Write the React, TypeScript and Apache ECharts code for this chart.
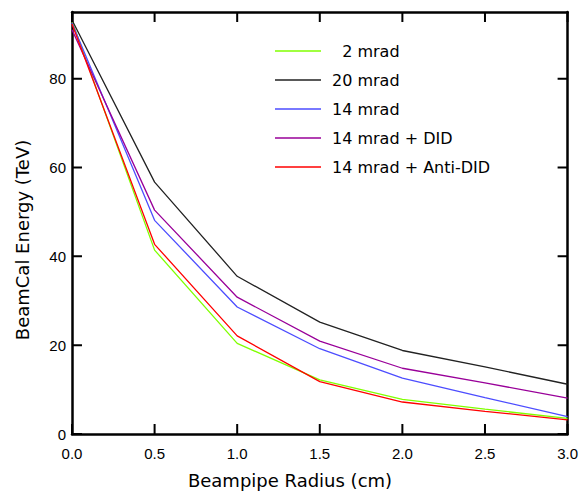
import React, { useEffect, useRef } from "react";
import * as echarts from "echarts";

const radius = [0, 0.5, 1.0, 1.5, 2.0, 2.5, 3.0];
const seriesNames = ["  2 mrad", "20 mrad", "14 mrad", "14 mrad + DID", "14 mrad + Anti-DID"];
const mrad2 = [93.0, 41.4, 20.4, 12.2, 7.8, 5.6, 3.5];
const mrad20 = [93.2, 56.7, 35.5, 25.2, 18.8, 15.1, 11.2];
const mrad14 = [92.5, 48.1, 28.6, 19.2, 12.6, 8.2, 3.9];
const mrad14Did = [91.0, 50.4, 30.8, 20.9, 14.8, 11.5, 8.1];
const mrad14AntiDid = [92.3, 42.7, 22.1, 11.8, 7.2, 5.1, 3.2];
const seriesValues = [mrad2, mrad20, mrad14, mrad14Did, mrad14AntiDid];
const colors = ["#80ff00", "#222222", "#4d4dff", "#990099", "#ff0000"];
const xTicks = [0, 0.5, 1.0, 1.5, 2.0, 2.5, 3.0];
const yTicks = [0, 20, 40, 60, 80];
const X_MIN = 0;
const X_MAX = 3;
const Y_MIN = 0;
const Y_MAX = 95;

const W = 581;
const H = 491;
const G_LEFT = 72;
const G_RIGHT = 12;
const G_TOP = 12;
const G_BOTTOM = 57;
const TICK_PX = 10;

export default function App() {
  const ref = useRef<HTMLDivElement>(null);
  useEffect(() => {
    document.body.style.margin = "0";
    const chart = echarts.init(ref.current!, null, { renderer: "svg" });
    const tickFont = () => ({ fontFamily: "Liberation Sans", fontSize: 15, color: "#000" });
    const axisLine = () => ({ show: true, onZero: false, lineStyle: { color: "#000", width: 2.5 } });
    const frameAxis = () => ({
      type: "value",
      axisLine: axisLine(),
      axisTick: { show: false },
      axisLabel: { show: false },
      splitLine: { show: false },
    });

    // tick length converted from pixels into data units of each axis
    const dx = ((X_MAX - X_MIN) * TICK_PX) / (W - G_LEFT - G_RIGHT);
    const dy = ((Y_MAX - Y_MIN) * TICK_PX) / (H - G_TOP - G_BOTTOM);
    const tickData: any[] = [];
    xTicks.forEach((v) => {
      tickData.push([v, Y_MIN], [v, Y_MIN + dy], [v, "-"]);
      tickData.push([v, Y_MAX], [v, Y_MAX - dy], [v, "-"]);
    });
    yTicks.forEach((v) => {
      tickData.push([X_MIN, v], [X_MIN + dx, v], [X_MIN, "-"]);
      tickData.push([X_MAX, v], [X_MAX - dx, v], [X_MAX, "-"]);
    });

    chart.setOption({
      animation: false,
      grid: { left: G_LEFT, right: G_RIGHT, top: G_TOP, bottom: G_BOTTOM },
      legend: {
        orient: "vertical",
        left: 270,
        top: 38,
        icon: "rect",
        itemWidth: 46,
        itemHeight: 1.5,
        itemGap: 13,
        data: seriesNames,
        textStyle: { fontFamily: "DejaVu Sans", fontSize: 16, color: "#000", padding: [0, 0, 0, 6] },
      },
      xAxis: [
        {
          type: "value",
          min: X_MIN,
          max: X_MAX,
          interval: 0.5,
          axisLine: axisLine(),
          axisTick: { show: false },
          splitLine: { show: false },
          axisLabel: { ...tickFont(), margin: 12, formatter: (v: number) => v.toFixed(1) },
        },
        { ...frameAxis(), position: "top", min: X_MIN, max: X_MAX, interval: 0.5 },
      ],
      yAxis: [
        {
          type: "value",
          min: Y_MIN,
          max: Y_MAX,
          interval: 20,
          axisLine: axisLine(),
          axisTick: { show: false },
          splitLine: { show: false },
          axisLabel: {
            ...tickFont(),
            margin: 6,
            formatter: (v: number) => (yTicks.includes(v) ? String(v) : ""),
          },
        },
        { ...frameAxis(), position: "right", min: Y_MIN, max: Y_MAX, interval: 20 },
      ],
      graphic: [
        {
          type: "text",
          x: 22,
          y: 240,
          rotation: Math.PI / 2,
          style: {
            text: "BeamCal Energy (TeV)",
            fontFamily: "DejaVu Sans",
            fontSize: 18,
            fill: "#000",
            align: "center",
            verticalAlign: "middle",
          },
        },
        {
          type: "text",
          x: 290,
          y: 480,
          style: {
            text: "Beampipe Radius (cm)",
            fontFamily: "DejaVu Sans",
            fontSize: 18,
            fill: "#000",
            align: "center",
            verticalAlign: "middle",
          },
        },
      ],
      series: [
        ...seriesNames.map((name, i) => ({
          name,
          type: "line",
          symbol: "none",
          color: colors[i],
          lineStyle: { color: colors[i], width: 1.3 },
          data: radius.map((r, j) => [r, seriesValues[i][j]]),
        })),
        {
          name: "ticks",
          type: "line",
          symbol: "none",
          silent: true,
          connectNulls: false,
          clip: false,
          z: 5,
          color: "#000",
          lineStyle: { color: "#000", width: 2 },
          data: tickData,
        },
      ],
    });
    return () => chart.dispose();
  }, []);
  return <div ref={ref} style={{ width: W, height: H }} />;
}
